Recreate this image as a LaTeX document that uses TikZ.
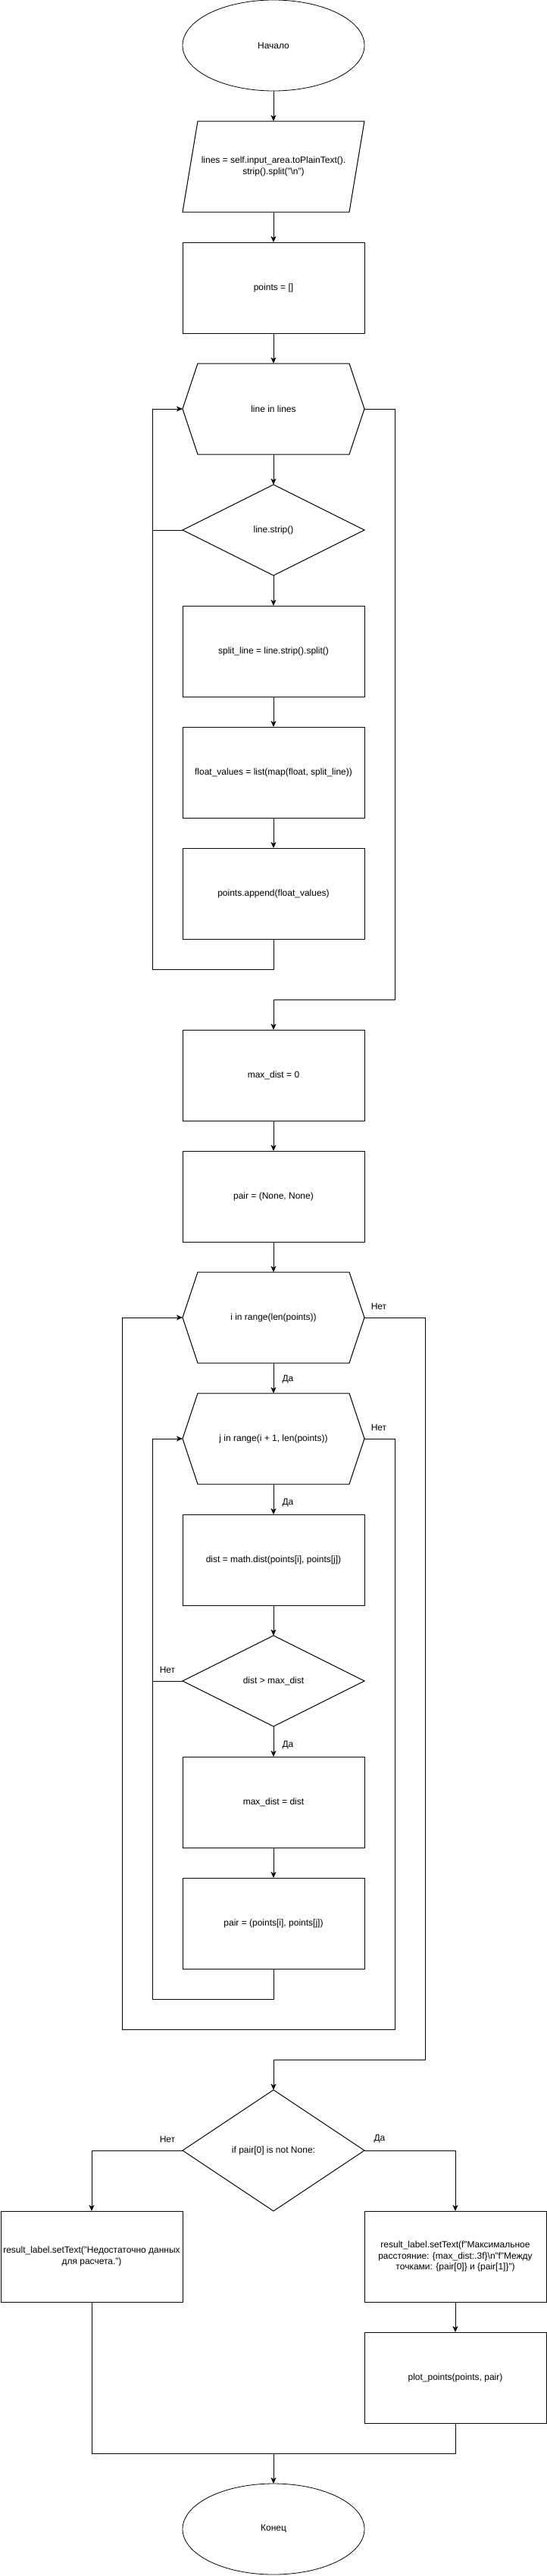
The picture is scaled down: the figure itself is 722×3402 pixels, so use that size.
\documentclass[tikz,border=0pt]{standalone}
\usepackage{fontspec}
\setmainfont{Liberation Sans}
\usetikzlibrary{shapes.geometric,arrows.meta}
\newcommand\hexdraw[1]{\draw[ln] ([xshift=20pt]#1.north west) -- ([xshift=-20pt]#1.north east) -- (#1.east) -- ([xshift=-20pt]#1.south east) -- ([xshift=20pt]#1.south west) -- (#1.west) -- cycle;}
\newcommand\diadraw[1]{\draw[ln] (#1.north) -- (#1.east) -- (#1.south) -- (#1.west) -- cycle;}
\newcommand\pardraw[1]{\draw[ln] ([xshift=20pt]#1.north west) -- (#1.north east) -- ([xshift=-20pt]#1.south east) -- (#1.south west) -- cycle;}
\begin{document}
\begin{tikzpicture}[x=1pt,y=-1pt,
  font=\fontsize{12}{14.4}\selectfont,
  every node/.style={inner sep=0pt, outer sep=0pt},
  ln/.style={line width=1pt, line join=miter},
  box/.style={draw, ln, rectangle, minimum width=240pt, minimum height=120pt, align=center},
  blank/.style={rectangle, minimum width=240pt, minimum height=120pt, align=center},
  oval/.style={draw, line width=0.8pt, ellipse, minimum width=240pt, minimum height=120pt},
  arr/.style={ln, -{Stealth[length=8pt,width=7pt,inset=2pt]}},
  lbl/.style={font=\fontsize{12}{14.4}\selectfont}
]
\fill[white] (0,0) rectangle (722,3402);
\useasboundingbox (0,0) rectangle (722,3402);

% nodes
\node[oval] (start) at (361,60) {Начало};
\node[blank] (input) at (361,220) {lines = self.input\_area.toPlainText().\\strip().split("\textbackslash n")};
\pardraw{input}
\node[box] (pts) at (361,380) {points = []};
\node[blank] (hexa) at (361,540) {line in lines};
\hexdraw{hexa}
\node[blank] (strip) at (361,700) {line.strip()};
\diadraw{strip}
\node[box] (split) at (361,860) {split\_line = line.strip().split()};
\node[box] (flt) at (361,1020) {float\_values = list(map(float, split\_line))};
\node[box] (app) at (361,1180) {points.append(float\_values)};
\node[box] (maxd) at (361,1420) {max\_dist = 0};
\node[box] (pnone) at (361,1580) {pair = (None, None)};
\node[blank] (ihex) at (361,1740) {i in range(len(points))};
\hexdraw{ihex}
\node[blank] (jhex) at (361,1900) {j in range(i + 1, len(points))};
\hexdraw{jhex}
\node[box] (dist) at (361,2060) {dist = math.dist(points[i], points[j])};
\node[blank] (cmp) at (361,2220) {dist > max\_dist};
\diadraw{cmp}
\node[box] (upd) at (361,2380) {max\_dist = dist};
\node[box] (pset) at (361,2540) {pair = (points[i], points[j])};
\node[blank, minimum height=160pt] (fin) at (361,2840) {if pair[0] is not None:};
\diadraw{fin}
\node[box] (no) at (121,2980) {result\_label.setText("Недостаточно данных\\для расчета.")};
\node[box] (yes) at (601,2980) {result\_label.setText(f"Максимальное\\расстояние: \{max\_dist:.3f\}\textbackslash n"f"Между\\точками: \{pair[0]\} и \{pair[1]\}")};
\node[box] (plot) at (601,3140) {plot\_points(points, pair)};
\node[oval] (stop) at (361,3340) {Конец};
\coordinate (merge) at (361,3240);

% connectors
\draw[arr] (start.south) -- (input.north);
\draw[arr] (input.south) -- (pts.north);
\draw[arr] (pts.south) -- (hexa.north);
\draw[arr] (hexa.south) -- (strip.north);
\draw[arr] (strip.south) -- (split.north);
\draw[arr] (split.south) -- (flt.north);
\draw[arr] (flt.south) -- (app.north);
\draw[arr] (app.south) -- ++(0,40) -| ([xshift=-40pt]hexa.west) -- (hexa.west);
\draw[ln] (strip.west) -- ++(-40,0);
\draw[arr] (hexa.east) -- ++(40,0) -- ++(0,780) -| (maxd.north);
\draw[arr] (maxd.south) -- (pnone.north);
\draw[arr] (pnone.south) -- (ihex.north);
\draw[arr] (ihex.south) -- (jhex.north);
\draw[arr] (jhex.south) -- (dist.north);
\draw[arr] (dist.south) -- (cmp.north);
\draw[arr] (cmp.south) -- (upd.north);
\draw[arr] (upd.south) -- (pset.north);
\draw[arr] (pset.south) -- ++(0,40) -| ([xshift=-40pt]jhex.west) -- (jhex.west);
\draw[ln] (cmp.west) -- ++(-40,0);
\draw[arr] (jhex.east) -- ++(40,0) -- ++(0,780) -| ([xshift=-80pt]ihex.west) -- (ihex.west);
\draw[arr] (ihex.east) -- ++(80,0) -- ++(0,980) -| (fin.north);
\draw[arr] (fin.west) -| (no.north);
\draw[arr] (fin.east) -| (yes.north);
\draw[arr] (yes.south) -- (plot.north);
\draw[ln] (no.south) -- ++(0,200) -| (plot.south);
\draw[arr] (merge) -- (stop.north);

% labels
\node[lbl] (l1) at (500,1725) {Нет};
\node[lbl] (l2) at (380,1822) {Да};
\node[lbl] (l3) at (500,1885) {Нет};
\node[lbl] (l4) at (380,1985) {Да};
\node[lbl] (l5) at (221,2205) {Нет};
\node[lbl] (l6) at (380,2305) {Да};
\node[lbl] (l7) at (221,2825) {Нет};
\node[lbl] (l8) at (501,2825) {Да};
\end{tikzpicture}
\end{document}
